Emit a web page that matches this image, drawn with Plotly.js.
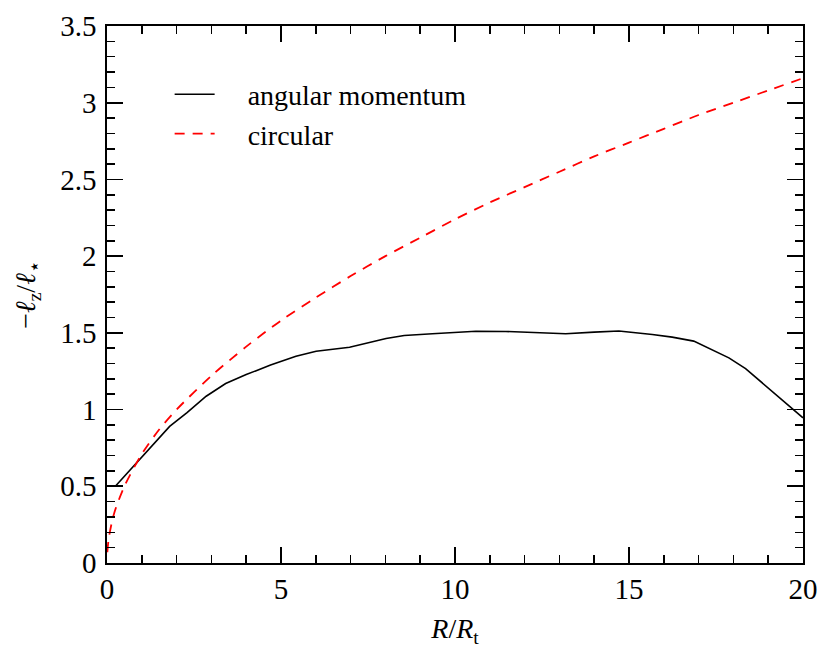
<!DOCTYPE html>
<html>
<head>
<meta charset="utf-8">
<script src="https://cdn.plot.ly/plotly-3.0.1.min.js"></script>
<style>html,body{margin:0;padding:0;background:#fff;}#chart{width:830px;height:660px;}</style>
</head>
<body>
<div id="chart"></div>
<script>
// angular momentum profile
const amR = [0.24, 1.0, 1.80, 2.3, 2.85, 3.41, 4.0, 4.7, 5.43, 6.01, 6.97, 8.02, 8.54, 9.35, 10.12, 10.6, 11.46, 12.3, 13.18, 14.0, 14.71, 15.67, 16.24, 16.86, 17.87, 18.35, 19.2, 20.0];
const amL = [0.50, 0.69, 0.89, 0.98, 1.087, 1.17, 1.228, 1.29, 1.348, 1.38, 1.406, 1.463, 1.483, 1.494, 1.504, 1.510, 1.509, 1.500, 1.494, 1.505, 1.512, 1.489, 1.472, 1.446, 1.337, 1.267, 1.10, 0.946];
// circular orbit profile
const cR = [0.01, 0.05, 0.2, 0.5, 1, 1.5, 2, 3, 4, 5, 6, 7, 8, 9, 10, 11, 12, 13, 14, 15, 16, 17, 18, 19, 20];
const cL = [0.07, 0.16, 0.32, 0.50, 0.71, 0.87, 1.0, 1.22, 1.41, 1.58, 1.73, 1.87, 2.0, 2.12, 2.24, 2.35, 2.45, 2.55, 2.65, 2.74, 2.83, 2.92, 3.0, 3.08, 3.16];

const seriesNames = ['angular momentum', 'circular'];

const fam = 'Liberation Serif, Times New Roman, serif';
const tickFont = {family: fam, size: 29, color: '#000'};
const legFont = {family: fam, size: 28, color: '#000'};
const titleFont = {family: fam, size: 28, color: '#000'};
const pad = '\u00a0\u00a0\u00a0\u00a0';

const traces = [
  {x: amR, y: amL, name: pad + seriesNames[0], mode: 'lines', line: {color: '#000', width: 1.6}},
  {x: cR, y: cL, name: pad + seriesNames[1], mode: 'lines', line: {color: '#ff0000', width: 1.8, dash: '10px,8px', shape: 'spline', smoothing: 0.8}}
];

const axisCommon = {
  showgrid: false, zeroline: false, showline: true, linecolor: '#000', linewidth: 1.6,
  mirror: 'allticks', ticks: 'inside', ticklen: 16, tickwidth: 1.6, tickcolor: '#000',
  tickfont: tickFont
};

const layout = {
  width: 830, height: 660,
  margin: {l: 107, r: 27, t: 26, b: 97},
  paper_bgcolor: '#fff', plot_bgcolor: '#fff',
  font: tickFont,
  showlegend: true,
  legend: {x: 0.09, y: 0.919, xanchor: 'left', yanchor: 'top', bgcolor: 'rgba(0,0,0,0)', font: legFont, itemwidth: 40, tracegroupgap: 0},
  xaxis: Object.assign({}, axisCommon, {
    range: [0, 20], dtick: 5, tick0: 0,
    minor: {dtick: 1, ticks: 'inside', ticklen: 8, tickwidth: 1.6, tickcolor: '#000'},
    title: {text: '<i>R</i>/<i>R</i><sub>t</sub>', font: titleFont, standoff: 14}
  }),
  yaxis: Object.assign({}, axisCommon, {
    range: [0, 3.5], dtick: 0.5, tick0: 0, ticklabelstandoff: 3,
    minor: {dtick: 0.1, ticks: 'inside', ticklen: 8, tickwidth: 1.6, tickcolor: '#000'},
    title: {text: '−<i>ℓ</i><sub>z</sub>/<i>ℓ</i><sub>⋆</sub>', font: titleFont, standoff: 16}
  })
};

Plotly.newPlot('chart', traces, layout, {staticPlot: true, displayModeBar: false});
</script>
</body>
</html>
